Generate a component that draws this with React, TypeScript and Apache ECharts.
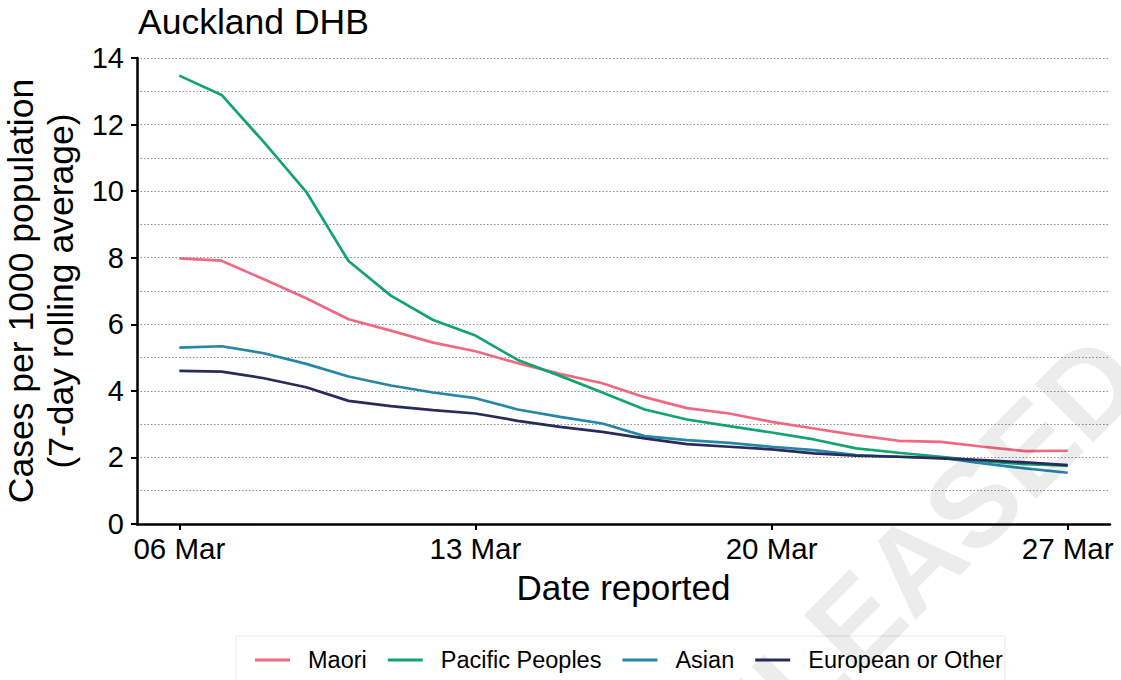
import React, { useEffect, useRef } from "react";
import * as echarts from "echarts";

// Reporting dates (x axis)
const dates = [
  "06 Mar", "07 Mar", "08 Mar", "09 Mar", "10 Mar", "11 Mar", "12 Mar",
  "13 Mar", "14 Mar", "15 Mar", "16 Mar", "17 Mar", "18 Mar", "19 Mar",
  "20 Mar", "21 Mar", "22 Mar", "23 Mar", "24 Mar", "25 Mar", "26 Mar",
  "27 Mar",
];

// Dates that carry a tick label
const labelledDates = ["06 Mar", "13 Mar", "20 Mar", "27 Mar"];

// Cases per 1000 population, 7-day rolling average
const maori = [7.98, 7.91, 7.35, 6.78, 6.15, 5.81, 5.45, 5.19, 4.83, 4.51, 4.23, 3.81, 3.48, 3.32, 3.07, 2.87, 2.67, 2.5, 2.47, 2.32, 2.19, 2.2];
const pacific = [13.47, 12.89, 11.47, 9.98, 7.9, 6.86, 6.13, 5.66, 4.93, 4.45, 3.95, 3.44, 3.14, 2.94, 2.75, 2.54, 2.27, 2.14, 2.02, 1.89, 1.8, 1.75];
const asian = [5.3, 5.34, 5.13, 4.81, 4.43, 4.16, 3.95, 3.78, 3.44, 3.22, 3.02, 2.64, 2.52, 2.44, 2.32, 2.22, 2.07, 2.02, 1.99, 1.82, 1.67, 1.54];
const european = [4.6, 4.58, 4.38, 4.11, 3.7, 3.54, 3.42, 3.32, 3.1, 2.92, 2.77, 2.57, 2.4, 2.32, 2.24, 2.12, 2.05, 2.02, 1.97, 1.92, 1.85, 1.77];

const seriesNames = ["Maori", "Pacific Peoples", "Asian", "European or Other"];
const seriesValues = [maori, pacific, asian, european];
const seriesColors = ["#EF6A80", "#13A36F", "#2686A8", "#272C5C"];

const FONT = "'Liberation Sans', Arial, Helvetica, sans-serif";

export default function App() {
  const ref = useRef<HTMLDivElement>(null);

  useEffect(() => {
    if (!ref.current) return;
    const chart = echarts.init(ref.current, null, { renderer: "svg" });

    const gridLine = { color: "#8c8c8c", width: 1, type: [1.5, 2] as any };
    const tickValues = labelledDates.map((d) => dates.indexOf(d));

    chart.setOption({
      animation: false,
      backgroundColor: "#ffffff",
      textStyle: { fontFamily: FONT },
      title: {
        text: "Auckland DHB",
        left: 133,
        top: -1,
        textStyle: { fontFamily: FONT, fontSize: 35.5, fontWeight: "normal", color: "#000" },
      },
      grid: {
        left: 137,
        right: 11,
        top: 58,
        bottom: 156,
        containLabel: false,
        outerBoundsMode: "none",
      },
      xAxis: {
        type: "value",
        min: -1,
        max: dates.length,
        name: "Date reported",
        nameLocation: "middle",
        nameGap: 46,
        nameTextStyle: { fontFamily: FONT, fontSize: 35, color: "#000" },
        splitLine: { show: false },
        axisLine: { show: true, onZero: false, lineStyle: { color: "#000", width: 2.5 } },
        axisTick: { show: true, length: 6, lineStyle: { color: "#000", width: 2 }, customValues: tickValues },
        axisLabel: {
          customValues: tickValues,
          formatter: (v: number) => dates[Math.round(v)] ?? "",
          fontFamily: FONT,
          fontSize: 29.5,
          color: "#000",
          margin: 9,
        },
      },
      yAxis: {
        type: "value",
        min: 0,
        max: 14,
        interval: 2,
        name: "Cases per 1000 population\n(7-day rolling average)",
        nameLocation: "middle",
        nameRotate: 90,
        nameGap: 46,
        nameTextStyle: { fontFamily: FONT, fontSize: 35.5, color: "#000", lineHeight: 40 },
        axisLine: { show: true, onZero: false, lineStyle: { color: "#000", width: 2.5 } },
        axisTick: { show: true, length: 6, lineStyle: { color: "#000", width: 2 } },
        axisLabel: { fontFamily: FONT, fontSize: 29, color: "#000", margin: 13 },
        splitLine: { show: true, lineStyle: gridLine },
        minorTick: { show: false, splitNumber: 2 },
        minorSplitLine: { show: true, lineStyle: gridLine },
      },
      legend: {
        data: seriesNames,
        left: 236,
        top: 636,
        orient: "horizontal",
        icon: "rect",
        itemWidth: 35,
        itemHeight: 3,
        itemGap: 21,
        padding: [12, 2, 14, 19],
        borderColor: "#e8e8e8",
        borderWidth: 1,
        textStyle: { fontFamily: FONT, fontSize: 23.5, color: "#000", padding: [0, 0, 0, 13] },
      },
      series: seriesNames.map((name, i) => ({
        name,
        type: "line",
        data: seriesValues[i].map((v, d) => [d, v]),
        showSymbol: false,
        symbol: "none",
        lineStyle: { color: seriesColors[i], width: 2.7 },
        itemStyle: { color: seriesColors[i] },
      })),
      graphic: [
        {
          type: "text",
          x: 888,
          y: 588,
          rotation: Math.PI / 4,
          z: 100,
          silent: true,
          style: {
            text: "RELEASED",
            fontFamily: FONT,
            fontWeight: "bold",
            fontSize: 120,
            fill: "rgba(0,0,0,0.075)",
            textAlign: "center",
            textVerticalAlign: "middle",
          },
        },
      ],
    });

    return () => chart.dispose();
  }, []);

  return (
    <div
      ref={ref}
      style={{ position: "fixed", left: 0, top: 0, width: 1121, height: 680, background: "#fff" }}
    />
  );
}
